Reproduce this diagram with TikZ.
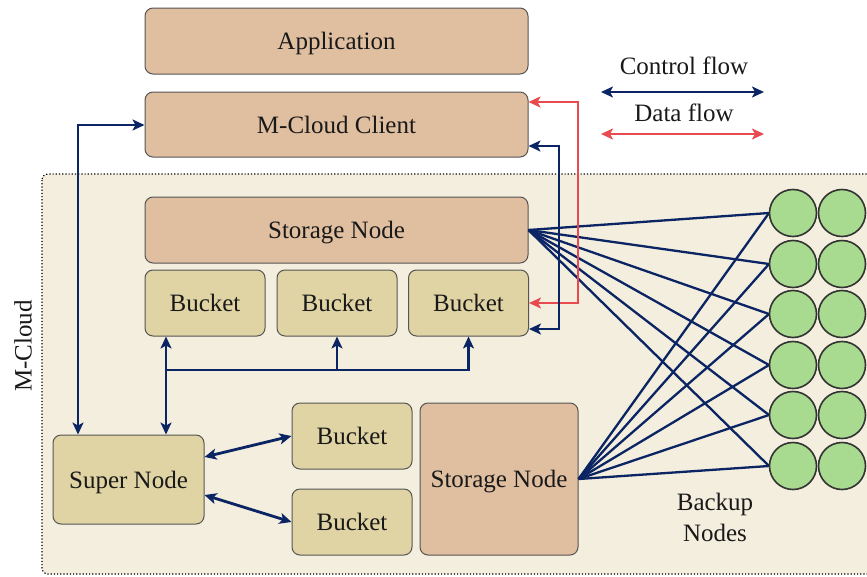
\documentclass[tikz,border=0pt]{standalone}
\usepackage{fontspec}
\setmainfont{Liberation Serif}
\usetikzlibrary{arrows.meta,calc}
\definecolor{regfill}{HTML}{F3EEDD}
\definecolor{tanfill}{HTML}{E0BEA0}
\definecolor{bktfill}{HTML}{E0D4A4}
\definecolor{grnfill}{HTML}{A8DA90}
\definecolor{navy}{HTML}{0B2463}
\definecolor{redl}{HTML}{E84A50}
\definecolor{edge}{HTML}{555555}
\tikzset{
  box/.style={draw=edge, line width=1pt, rounded corners=8pt, inner sep=0pt, font=\fontsize{25}{29}\selectfont, text=black!90, text height=17pt, text depth=0pt},
  tanbox/.style={box, fill=tanfill},
  bktbox/.style={box, fill=bktfill},
  backup/.style={circle, draw=black!80, line width=1.6pt, fill=grnfill, minimum size=47pt, inner sep=0pt},
  ctl/.style={navy, line width=2.8pt, {Stealth[length=12pt,width=11pt,inset=3pt]}-{Stealth[length=12pt,width=11pt,inset=3pt]}},
  ctlend/.style={navy, line width=2.8pt, -{Stealth[length=12pt,width=11pt,inset=3pt]}},
  dat/.style={redl, line width=2.8pt, {Stealth[length=12pt,width=11pt,inset=3pt]}-{Stealth[length=12pt,width=11pt,inset=3pt]}},
  fan/.style={navy, line width=2.3pt},
  lbl/.style={font=\fontsize{25}{29}\selectfont, text=black!90, inner sep=0pt}
}
\begin{document}
\begin{tikzpicture}[x=1pt,y=-1pt]
\useasboundingbox (0,0) rectangle (867,576);
\clip (0,0) rectangle (867,576);
% region
\draw[fill=regfill, dotted, line width=1.2pt, rounded corners=6pt] (42,174) rectangle (890,574);
\node[lbl, rotate=90] (mcloud) at (23,346) {M-Cloud};
% boxes
\node[tanbox, minimum width=383pt, minimum height=66pt] (app) at (336.5,41) {Application};
\node[tanbox, minimum width=383pt, minimum height=65pt] (client) at (336.5,124.5) {M-Cloud Client};
\node[tanbox, minimum width=383pt, minimum height=66pt] (stA) at (336.5,230) {Storage Node};
\node[bktbox, minimum width=120pt, minimum height=66pt] (b1) at (205,303) {Bucket};
\node[bktbox, minimum width=120pt, minimum height=66pt] (b2) at (337,303) {Bucket};
\node[bktbox, minimum width=120pt, minimum height=66pt] (b3) at (468.5,303) {Bucket};
\node[bktbox, minimum width=151pt, minimum height=89pt] (super) at (128.5,479.5) {Super Node};
\node[bktbox, minimum width=120pt, minimum height=66pt] (r1) at (352,436) {Bucket};
\node[bktbox, minimum width=120pt, minimum height=66pt] (r2) at (352,522) {Bucket};
\node[tanbox, minimum width=158pt, minimum height=152pt] (stB) at (499,479) {Storage Node};
% fan lines
\foreach \i/\y in {1/213,2/264,3/314,4/365,5/415,6/466}{
  \coordinate (p\i) at (769,\y);
}
\foreach \i in {1,...,6}{
  \draw[fan] (stA.east) -- (p\i);
  \draw[fan] (stB.east) -- (p\i);
}
% backup nodes
\foreach \i/\y in {1/213,2/264,3/314,4/365,5/415,6/466}{
  \node[backup] (ca\i) at (793,\y) {};
  \node[backup] (cb\i) at (842,\y) {};
}
\node[lbl, align=center, font=\fontsize{25}{31}\selectfont] (bk) at (715,517) {Backup\\Nodes};
% flow connectors
\coordinate (rA) at (578,102);
\coordinate (rB) at (578,303);
\coordinate (cA) at (559,146);
\coordinate (cB) at (559,329);
\draw[dat] (client.east |- rA) -- (rA) -- (rB) -- (b3.east |- rB);
\draw[ctl] (client.east |- cA) -- (cA) -- (cB) -- (b3.east |- cB);
\coordinate (lA) at (78,125);
\draw[ctl] (client.west |- lA) -- (lA) -- (lA |- super.north);
\coordinate (h1) at (166,370);
\draw[ctl] (super.north -| h1) -- (b1.south -| h1);
\draw[ctlend] (h1) -- (h1 -| b3) -- (b3.south);
\draw[ctlend] (h1 -| b2) -- (b2.south);
\draw[ctl] ([yshift=22.5pt]super.east) -- (r1.west);
\draw[ctl] ([yshift=-15.5pt]super.east) -- (r2.west);
% legend
\node[lbl] (lc) at (684,66) {Control flow};
\node[lbl] (ld) at (684,113) {Data flow};
\coordinate (la1) at (601,92);
\coordinate (la2) at (764,92);
\coordinate (lb1) at (601,134);
\coordinate (lb2) at (764,134);
\draw[ctl] (la1) -- (la2);
\draw[dat] (lb1) -- (lb2);
\end{tikzpicture}
\end{document}
